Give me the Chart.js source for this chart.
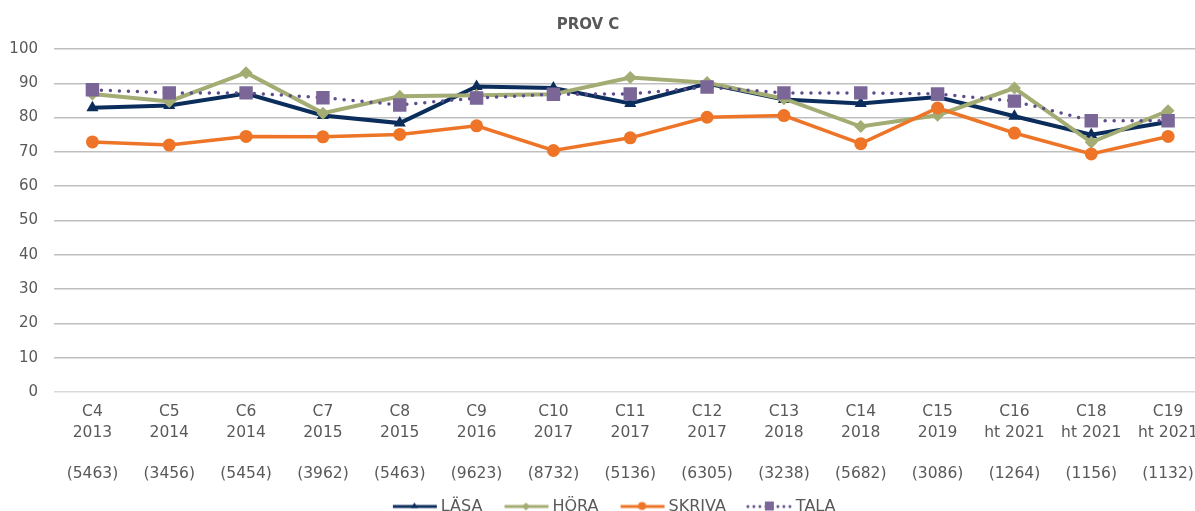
<!DOCTYPE html>
<html>
<head>
<meta charset="utf-8">
<script src="https://cdn.jsdelivr.net/npm/chart.js@4.4.0/dist/chart.umd.min.js"></script>
<style>
  html, body { margin: 0; padding: 0; background: #fff; overflow: hidden; }
  #wrap { width: 1195px; height: 511px; overflow: hidden; }
</style>
</head>
<body>
<div id="wrap"><canvas id="chart" width="1216" height="511"></canvas></div>
<script>
const chartTitle = 'PROV C';
const provNames = ['C4', 'C5', 'C6', 'C7', 'C8', 'C9', 'C10', 'C11', 'C12', 'C13', 'C14', 'C15', 'C16', 'C18', 'C19'];
const years = ['2013', '2014', '2014', '2015', '2015', '2016', '2017', '2017', '2017', '2018', '2018', '2019', 'ht 2021', 'ht 2021', 'ht 2021'];
const counts = ['(5463)', '(3456)', '(5454)', '(3962)', '(5463)', '(9623)', '(8732)', '(5136)', '(6305)', '(3238)', '(5682)', '(3086)', '(1264)', '(1156)', '(1132)'];

const lasa   = [82.9, 83.5, 87.0, 80.6, 78.4, 89.1, 88.6, 84.1, 89.9, 85.3, 84.1, 86.0, 80.4, 75.0, 78.7];
const hora   = [86.9, 84.7, 93.1, 81.3, 86.2, 86.5, 86.8, 91.7, 90.2, 85.5, 77.4, 80.7, 88.6, 72.8, 82.0];
const skriva = [72.9, 72.0, 74.5, 74.4, 75.1, 77.6, 70.4, 74.1, 80.1, 80.6, 72.4, 82.8, 75.5, 69.4, 74.5];
const tala   = [88.1, 87.2, 87.2, 85.8, 83.7, 85.7, 86.8, 86.9, 88.9, 87.2, 87.2, 86.9, 84.8, 79.1, 79.1];

const yTicks = [0, 10, 20, 30, 40, 50, 60, 70, 80, 90, 100];

const labels = provNames.map((p, i) => [p, years[i], '', counts[i]]);
const FONT = '"DejaVu Sans", Verdana, sans-serif';
const TEXT = '#595959';

// legend icons: line with marker in the middle (drawn right-aligned in the image)
function legendIcon(lineColor, markColor, shape, dotted) {
  const c = document.createElement('canvas');
  c.width = 66; c.height = 16;
  const g = c.getContext('2d');
  const y = 8, x0 = 19, x1 = 66, xm = (x0 + x1) / 2;
  g.strokeStyle = lineColor;
  g.lineWidth = 3;
  if (dotted) { g.setLineDash([0, 6]); g.lineCap = 'round'; }
  g.beginPath(); g.moveTo(x0 + 2, y); g.lineTo(x1 - 1, y); g.stroke();
  g.setLineDash([]);
  g.fillStyle = markColor;
  g.beginPath();
  if (shape === 'triangle') {
    g.moveTo(xm, y - 4); g.lineTo(xm + 3.5, y + 1.5); g.lineTo(xm - 3.5, y + 1.5);
  } else if (shape === 'diamond') {
    g.moveTo(xm, y - 4); g.lineTo(xm + 4, y); g.lineTo(xm, y + 4); g.lineTo(xm - 4, y);
  } else if (shape === 'circle') {
    g.arc(xm, y - 0.5, 4, 0, Math.PI * 2);
  } else {
    g.rect(xm - 4.5, y - 5, 9, 9);
  }
  g.closePath();
  g.fill();
  return c;
}

const icons = [
  legendIcon('#0b2d5b', '#0b2d5b', 'triangle'),
  legendIcon('#a3ac72', '#a3ac72', 'diamond'),
  legendIcon('#ee7528', '#ee7528', 'circle'),
  legendIcon('#5e4b8b', '#7a6797', 'square', true)
];

const titlePlugin = {
  id: 'provTitle',
  afterDraw(chart) {
    const c = chart.ctx;
    c.save();
    c.font = 'bold 15px ' + FONT;
    c.fillStyle = TEXT;
    c.textAlign = 'center';
    c.textBaseline = 'middle';
    c.fillText(chartTitle, 588, 25);
    c.restore();
  }
};

new Chart(document.getElementById('chart'), {
  type: 'line',
  data: {
    labels: labels,
    datasets: [
      {
        label: 'LÄSA', data: lasa, order: 4,
        borderColor: '#0b2d5b', backgroundColor: '#0b2d5b', borderWidth: 4,
        pointStyle: 'triangle', pointRadius: 7, pointBorderWidth: 0
      },
      {
        label: 'HÖRA', data: hora, order: 3,
        borderColor: '#a3ac72', backgroundColor: '#a3ac72', borderWidth: 4,
        pointStyle: 'rectRot', pointRadius: 6.5, pointBorderWidth: 0
      },
      {
        label: 'SKRIVA', data: skriva, order: 2,
        borderColor: '#ee7528', backgroundColor: '#ee7528', borderWidth: 3.5,
        pointStyle: 'circle', pointRadius: 6.5, pointBorderWidth: 0
      },
      {
        label: 'TALA', data: tala, order: 1,
        borderColor: '#5e4b8b', backgroundColor: '#7a6797', borderWidth: 3.5,
        borderDash: [0, 9], borderCapStyle: 'round',
        pointStyle: 'rect', pointRadius: 9.5, pointBorderWidth: 0
      }
    ]
  },
  options: {
    responsive: false,
    animation: false,
    layout: { padding: { top: 49, left: 0, right: 3.6, bottom: -13.5 } },
    plugins: {
      tooltip: { enabled: false },
      title: { display: false },
      legend: {
        position: 'bottom',
        labels: {
          usePointStyle: true,
          pointStyleWidth: 56,
          padding: 6,
          color: TEXT,
          font: { family: FONT, size: 16 },
          generateLabels: chart => chart.data.datasets.map((ds, i) => ({
            text: ds.label,
            fontColor: TEXT,
            pointStyle: icons[i],
            fillStyle: 'transparent',
            strokeStyle: 'transparent',
            lineWidth: 0,
            hidden: false,
            datasetIndex: i
          }))
        }
      }
    },
    scales: {
      x: {
        offset: true,
        grid: { display: false },
        border: { display: false },
        ticks: {
          color: TEXT,
          font: { family: FONT, size: 15.5, lineHeight: 20.5 / 15.5 },
          padding: 2,
          maxRotation: 0,
          autoSkip: false
        },
        afterFit: s => { s.height = 100.5; }
      },
      y: {
        min: 0,
        max: 100,
        afterBuildTicks: s => { s.ticks = yTicks.map(v => ({ value: v })); },
        grid: {
          drawTicks: false,
          color: c => c.tick && c.tick.value === 0 ? '#d9d9d9' : '#bfbfbf',
          lineWidth: 1.5
        },
        border: { display: false },
        ticks: {
          color: TEXT,
          font: { family: FONT, size: 15 },
          padding: 16
        },
        afterFit: s => { s.width = 54; }
      }
    }
  },
  plugins: [titlePlugin]
});
</script>
</body>
</html>
